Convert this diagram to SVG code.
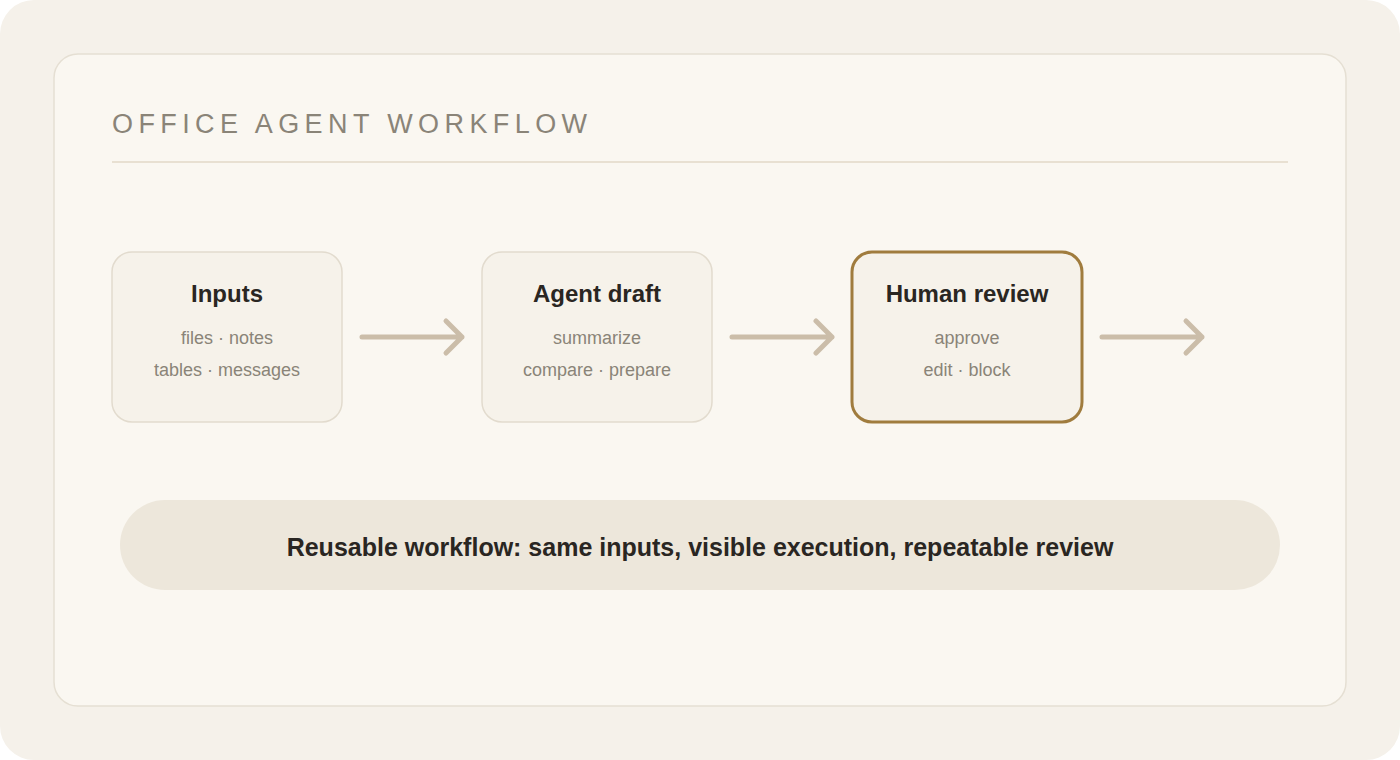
<svg xmlns="http://www.w3.org/2000/svg" width="1400" height="760" viewBox="0 0 1400 760">
<style>
.node rect{fill:#f6f2ea;stroke:#e2dbce;stroke-width:1.5}
.node.hl rect{stroke:#a07c3e;stroke-width:3}
.t{font-family:"Liberation Sans",Arial,sans-serif;font-weight:bold;font-size:24px;fill:#2a2622;text-anchor:middle}
.s{font-family:"Liberation Sans",Arial,sans-serif;font-size:18px;fill:#8a8478;text-anchor:middle}
.conn path{fill:none;stroke:#cbbda9;stroke-width:5;stroke-linecap:round;stroke-linejoin:round}
</style>
<rect x="0" y="0" width="1400" height="760" fill="#ffffff"/>
<rect x="0" y="0" width="1400" height="760" rx="34" fill="#f5f1ea"/>
<rect x="54" y="54" width="1292" height="652" rx="24" fill="#faf7f1" stroke="#e5dfd3" stroke-width="1.5"/>
<text x="112" y="133" font-family="Liberation Sans,Arial,sans-serif" font-size="27" letter-spacing="5.4" fill="#8a8478">OFFICE AGENT WORKFLOW</text>
<line x1="112" y1="162" x2="1288" y2="162" stroke="#e8e0d2" stroke-width="2"/>
<g id="inputs" class="node">
<rect x="112" y="252" width="230" height="170" rx="20"/>
<text class="t" x="227" y="302">Inputs</text>
<text class="s" x="227" y="344">files · notes</text>
<text class="s" x="227" y="376">tables · messages</text>
</g>
<g id="agent-draft" class="node">
<rect x="482" y="252" width="230" height="170" rx="20"/>
<text class="t" x="597" y="302">Agent draft</text>
<text class="s" x="597" y="344">summarize</text>
<text class="s" x="597" y="376">compare · prepare</text>
</g>
<g id="human-review" class="node hl">
<rect x="852" y="252" width="230" height="170" rx="20"/>
<text class="t" x="967" y="302">Human review</text>
<text class="s" x="967" y="344">approve</text>
<text class="s" x="967" y="376">edit · block</text>
</g>
<g id="connectors" class="conn">
<path d="M362 337 H462 M446 321 L462 337 L446 353"/>
<path d="M732 337 H832 M816 321 L832 337 L816 353"/>
<path d="M1102 337 H1202 M1186 321 L1202 337 L1186 353"/>
</g>
<g id="summary">
<rect x="120" y="500" width="1160" height="90" rx="45" fill="#ede7db"/>
<text class="t" x="700" y="556" style="font-size:25px">Reusable workflow: same inputs, visible execution, repeatable review</text>
</g>
</svg>
